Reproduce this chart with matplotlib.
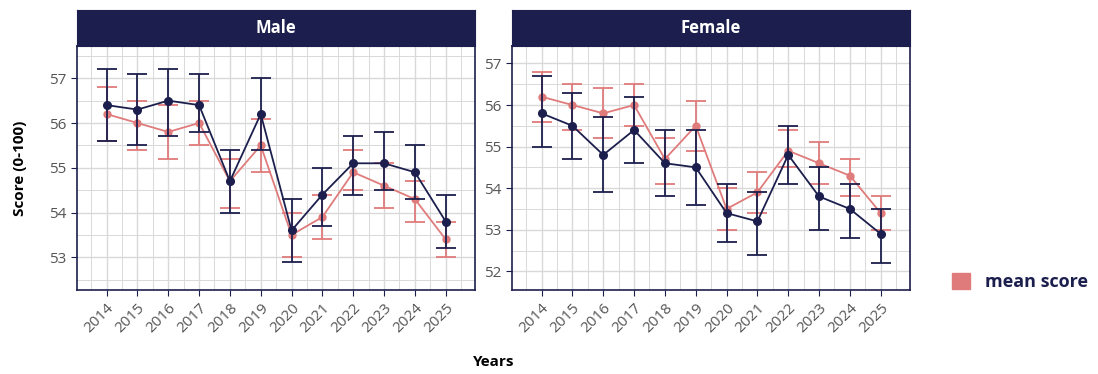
import matplotlib.pyplot as plt
from matplotlib.patches import Patch
from matplotlib.ticker import MultipleLocator

plt.rcParams['font.family'] = ['Open Sans', 'DejaVu Sans']

years = list(range(2014, 2026))

# overall mean score (pink), same in both panels
mean_score = [56.2, 56.0, 55.8, 56.0, 54.7, 55.5, 53.5, 53.9, 54.9, 54.6, 54.3, 53.4]
mean_lo = [55.6, 55.4, 55.2, 55.5, 54.1, 54.9, 53.0, 53.4, 54.5, 54.1, 53.8, 53.0]
mean_hi = [56.8, 56.5, 56.4, 56.5, 55.2, 56.1, 54.0, 54.4, 55.4, 55.1, 54.7, 53.8]

male_score = [56.4, 56.3, 56.5, 56.4, 54.7, 56.2, 53.6, 54.4, 55.1, 55.1, 54.9, 53.8]
male_lo = [55.6, 55.5, 55.7, 55.8, 54.0, 55.4, 52.9, 53.7, 54.4, 54.5, 54.3, 53.2]
male_hi = [57.2, 57.1, 57.2, 57.1, 55.4, 57.0, 54.3, 55.0, 55.7, 55.8, 55.5, 54.4]

female_score = [55.8, 55.5, 54.8, 55.4, 54.6, 54.5, 53.4, 53.2, 54.8, 53.8, 53.5, 52.9]
female_lo = [55.0, 54.7, 53.9, 54.6, 53.8, 53.6, 52.7, 52.4, 54.1, 53.0, 52.8, 52.2]
female_hi = [56.7, 56.3, 55.7, 56.2, 55.4, 55.4, 54.1, 53.9, 55.5, 54.5, 54.1, 53.5]

navy = '#1c1f4d'
pink = '#e07b7b'
grid_col = '#d9d9d9'

fig = plt.figure(figsize=(10.98, 3.74), dpi=100)

panels = [
    ('Male', male_score, male_lo, male_hi, 77, (52.27, 57.72), range(53, 58)),
    ('Female', female_score, female_lo, female_hi, 512, (51.55, 57.42), range(52, 58)),
]

W, H = 1098, 374
for title, sc, lo, hi, x0, ylim, yt in panels:
    ax = fig.add_axes([x0 / W, 1 - 290 / H, 398 / W, 244 / H])
    sax = fig.add_axes([x0 / W, 1 - 46 / H, 398 / W, 36 / H])
    sax.set_facecolor(navy)
    sax.set_xticks([])
    sax.set_yticks([])
    for s in sax.spines.values():
        s.set_color(navy)
    sax.text(0.5, 0.5, title, color='white', fontsize=12, fontweight='bold',
             ha='center', va='center', transform=sax.transAxes)

    ax.errorbar(years, mean_score,
                yerr=[[m - l for m, l in zip(mean_score, mean_lo)],
                      [h - m for m, h in zip(mean_score, mean_hi)]],
                color=pink, marker='o', markersize=5, linewidth=1.3,
                elinewidth=1.3, capsize=7.5, capthick=1.3, zorder=3)
    ax.errorbar(years, sc,
                yerr=[[m - l for m, l in zip(sc, lo)],
                      [h - m for m, h in zip(sc, hi)]],
                color=navy, marker='o', markersize=5.5, linewidth=1.3,
                elinewidth=1.3, capsize=7.5, capthick=1.3, zorder=4)

    ax.set_xlim(2013.04, 2025.95)
    ax.set_ylim(*ylim)
    ax.set_xticks(years)
    ax.set_xticklabels([str(y) for y in years], rotation=45, ha='right',
                       rotation_mode='anchor')
    ax.set_yticks(list(yt))
    ax.xaxis.set_minor_locator(MultipleLocator(0.5))
    ax.yaxis.set_minor_locator(MultipleLocator(0.5))
    ax.grid(True, which='major', color=grid_col, linewidth=1.0)
    ax.grid(True, which='minor', color=grid_col, linewidth=0.7)
    ax.set_axisbelow(True)
    ax.tick_params(which='minor', length=0)
    ax.tick_params(which='major', color=navy, length=4, labelsize=11,
                   labelcolor='#555555')
    for s in ax.spines.values():
        s.set_color(navy)
        s.set_linewidth(1.2)
    if title == 'Male':
        ax.set_ylabel('Score (0-100)', fontsize=11, fontweight='bold', labelpad=16)

fig.text(0.5 * (77 + 910) / W, 1 - 362 / H, 'Years', fontsize=11,
         fontweight='bold', ha='center', va='center')

fig.legend(handles=[Patch(color=pink, label='mean score')],
           loc='center left', bbox_to_anchor=(936 / W, 1 - 282 / H),
           frameon=False, handlelength=1.0, handleheight=1.0,
           prop={'size': 13, 'weight': 'bold'}, labelcolor=navy)

fig.savefig('out.png', dpi=100)
